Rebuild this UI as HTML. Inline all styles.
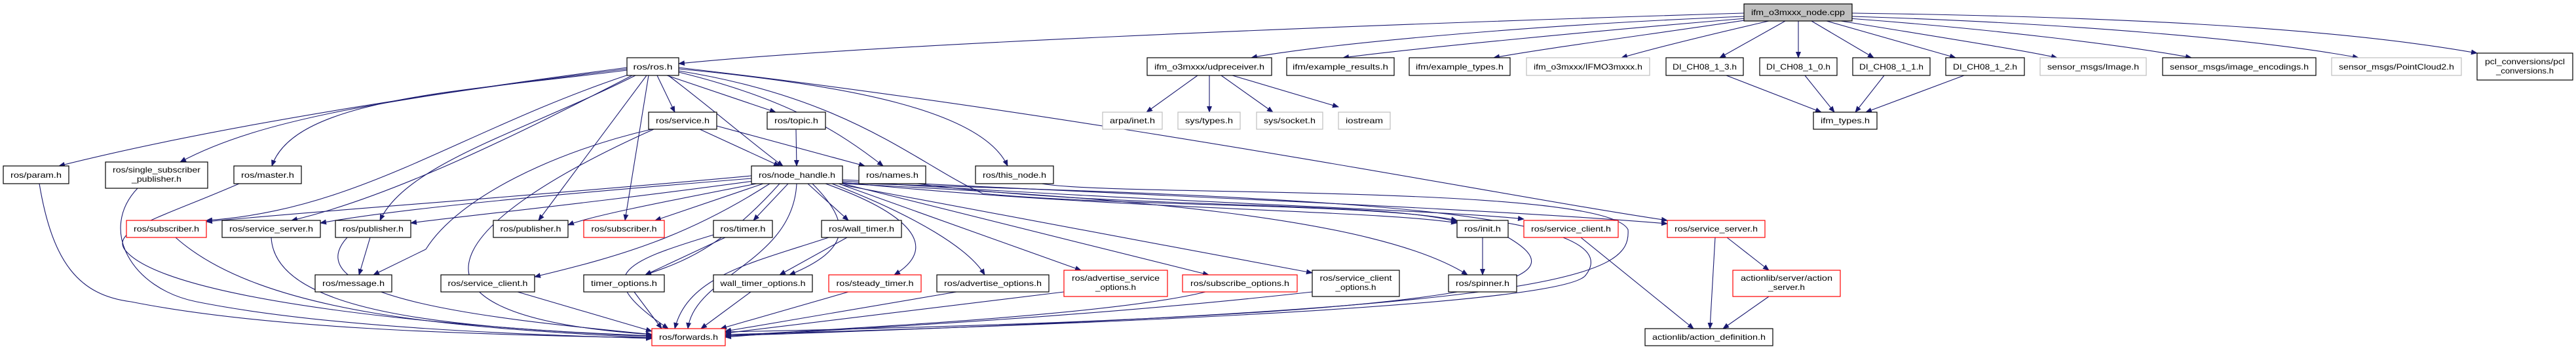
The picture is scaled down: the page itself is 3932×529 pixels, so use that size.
<!DOCTYPE html>
<html><head><meta charset="utf-8"><style>
html,body{margin:0;padding:0;background:#fff;}
svg{display:block;}
text{font-family:"Liberation Sans",sans-serif;font-size:12px;fill:#000;}
.g text{fill:#444;}
</style></head><body>
<svg width="3932" height="529" viewBox="0 0 3932 529" xmlns="http://www.w3.org/2000/svg">
<defs><marker id="a" markerWidth="10" markerHeight="8" refX="9" refY="4" orient="auto" markerUnits="userSpaceOnUse"><polygon points="0,0 10,4 0,8" fill="#191970"/></marker></defs>
<g fill="none" stroke="#191970" stroke-width="1.1" marker-end="url(#a)">
<path d="M2662,20 C2000,40 1300,70 1036,97"/>
<path d="M2662,25 C2300,40 2000,70 1910,88"/>
<path d="M2665,28 C2400,50 2150,75 2050,88"/>
<path d="M2670,30 C2500,55 2350,75 2280,88"/>
<path d="M2700,32 C2600,55 2520,75 2475,88"/>
<path d="M2725,32 L2625,88"/>
<path d="M2745,32 L2745,88"/>
<path d="M2765,32 L2860,88"/>
<path d="M2788,32 L2985,88"/>
<path d="M2810,32 C2950,55 3080,75 3140,88"/>
<path d="M2822,28 C3050,45 3250,70 3345,88"/>
<path d="M2827,25 C3150,35 3450,60 3600,88"/>
<path d="M2827,20 C3200,25 3550,40 3781,81"/>
<path d="M1828,115 L1750,171"/>
<path d="M1846,115 L1846,171"/>
<path d="M1864,115 L1943,171"/>
<path d="M1881,115 L2043,163"/>
<path d="M2635,115 L2780,171"/>
<path d="M2755,115 L2800,171"/>
<path d="M2876,115 L2832,171"/>
<path d="M2998,115 L2848,171"/>
<path d="M957,103 C600,150 300,200 90,253"/>
<path d="M957,105 C600,150 400,180 275,247"/>
<path d="M957,107 C700,140 450,150 415,253"/>
<path d="M962,113 C700,200 550,320 315,336"/>
<path d="M965,115 C800,200 600,300 445,336"/>
<path d="M970,115 C800,200 620,250 580,336"/>
<path d="M987,115 L822,336"/>
<path d="M990,115 L954,336"/>
<path d="M1003,115 L1030,171"/>
<path d="M1018,115 L1184,171"/>
<path d="M1020,115 C1080,160 1150,220 1195,253"/>
<path d="M1036,110 C1200,150 1280,200 1348,253"/>
<path d="M1036,105 C1300,130 1500,170 1538,253"/>
<path d="M1036,108 C1300,150 1400,250 1500,295 C1700,315 2100,310 2224,336"/>
<path d="M1036,103 C1700,180 2300,300 2545,336"/>
<path d="M1068,197 L1190,253"/>
<path d="M1094,192 L1320,253"/>
<path d="M995,197 C850,230 700,300 650,380 L570,419"/>
<path d="M998,197 C700,330 550,480 995,510"/>
<path d="M1215,197 L1216,253"/>
<path d="M1147,268 C800,300 500,320 315,338"/>
<path d="M1147,272 C800,300 600,320 489,340"/>
<path d="M1150,276 C900,310 700,330 627,340"/>
<path d="M1155,280 C1000,310 900,330 867,343"/>
<path d="M1165,280 L1000,336"/>
<path d="M1203,280 L1150,336"/>
<path d="M1233,280 L1295,336"/>
<path d="M1175,280 C1050,360 950,390 816,422"/>
<path d="M1190,280 C1100,380 1040,400 985,419"/>
<path d="M1240,280 C1300,340 1300,380 1205,419"/>
<path d="M1260,280 C1400,330 1430,380 1365,419"/>
<path d="M1270,280 C1400,330 1480,380 1503,419"/>
<path d="M1280,280 L1650,412"/>
<path d="M1286,280 L1845,419"/>
<path d="M1286,282 L2003,416"/>
<path d="M1216,280 C1210,400 1060,420 1050,501"/>
<path d="M1286,278 C1700,320 2100,320 2224,340"/>
<path d="M1286,276 C1800,310 2200,320 2326,334"/>
<path d="M1286,274 C1800,300 2300,320 2545,341"/>
<path d="M1286,280 C1700,300 2100,330 2240,419"/>
<path d="M1590,280 C1700,300 2450,280 2485,350 C2490,420 2400,470 1107,512"/>
<path d="M1400,280 C1700,320 2100,305 2224,338"/>
<path d="M1286,279 C2000,300 2500,320 2420,420 C2380,470 1500,500 1107,510"/>
<path d="M268,362 C400,480 700,500 995,515"/>
<path d="M414,362 C420,480 700,500 995,512"/>
<path d="M530,362 C440,460 800,490 995,510"/>
<path d="M565,362 L548,419"/>
<path d="M1107,362 L985,419"/>
<path d="M1089,358 C950,400 900,420 1020,501"/>
<path d="M1293,362 L1190,419"/>
<path d="M1265,362 C1150,400 1050,420 1030,501"/>
<path d="M790,445 L995,505"/>
<path d="M968,445 L1010,501"/>
<path d="M1146,445 L1070,501"/>
<path d="M1295,445 L1100,501"/>
<path d="M1460,445 L1107,505"/>
<path d="M1624,445 L1107,508"/>
<path d="M1840,445 C1700,480 1300,500 1107,512"/>
<path d="M2003,445 C1600,490 1200,505 1107,514"/>
<path d="M2302,362 C2400,420 2380,480 1107,506"/>
<path d="M60,280 C80,400 120,450 200,460 C400,500 700,510 995,515"/>
<path d="M210,287 C150,350 200,440 300,460 C500,500 800,510 995,516"/>
<path d="M365,280 C250,330 170,350 190,380 C250,460 700,500 995,513"/>
<path d="M2263,362 L2263,419"/>
<path d="M2413,362 L2585,501"/>
<path d="M2618,362 L2610,501"/>
<path d="M2636,362 L2700,412"/>
<path d="M2700,452 L2630,501"/>
</g>
<g stroke-width="1.2" fill="#fff">
<!-- row0 -->
<rect x="2662" y="6" width="165" height="26" fill="#bfbfbf" stroke="#000"/>
<!-- row1 -->
<rect x="957" y="88" width="79" height="27" stroke="#000"/>
<rect x="1751" y="88" width="190" height="27" stroke="#000"/>
<rect x="1964" y="88" width="164" height="27" stroke="#000"/>
<rect x="2151" y="88" width="154" height="27" stroke="#000"/>
<rect x="2330" y="88" width="188" height="27" stroke="#bfbfbf"/>
<rect x="2543" y="88" width="118" height="27" stroke="#000"/>
<rect x="2686" y="88" width="118" height="27" stroke="#000"/>
<rect x="2828" y="88" width="118" height="27" stroke="#000"/>
<rect x="2970" y="88" width="120" height="27" stroke="#000"/>
<rect x="3114" y="88" width="162" height="27" stroke="#bfbfbf"/>
<rect x="3301" y="88" width="234" height="27" stroke="#000"/>
<rect x="3559" y="88" width="198" height="27" stroke="#bfbfbf"/>
<rect x="3781" y="81" width="146" height="41" stroke="#000"/>
<!-- row2 -->
<rect x="990" y="171" width="104" height="26" stroke="#000"/>
<rect x="1171" y="171" width="89" height="26" stroke="#000"/>
<rect x="1683" y="171" width="91" height="26" stroke="#bfbfbf"/>
<rect x="1798" y="171" width="95" height="26" stroke="#bfbfbf"/>
<rect x="1918" y="171" width="101" height="26" stroke="#bfbfbf"/>
<rect x="2043" y="171" width="79" height="26" stroke="#bfbfbf"/>
<rect x="2768" y="171" width="97" height="26" stroke="#000"/>
<!-- row3 -->
<rect x="5" y="253" width="100" height="27" stroke="#000"/>
<rect x="161" y="247" width="156" height="40" stroke="#000"/>
<rect x="357" y="253" width="103" height="27" stroke="#000"/>
<rect x="1147" y="253" width="139" height="27" stroke="#000"/>
<rect x="1311" y="253" width="102" height="27" stroke="#000"/>
<rect x="1489" y="253" width="119" height="27" stroke="#000"/>
<!-- row4 -->
<rect x="193" y="336" width="122" height="26" stroke="#f00"/>
<rect x="339" y="336" width="150" height="26" stroke="#000"/>
<rect x="512" y="336" width="115" height="26" stroke="#000"/>
<rect x="753" y="336" width="114" height="26" stroke="#000"/>
<rect x="891" y="336" width="123" height="26" stroke="#f00"/>
<rect x="1089" y="336" width="90" height="26" stroke="#000"/>
<rect x="1254" y="336" width="122" height="26" stroke="#000"/>
<rect x="2224" y="336" width="78" height="26" stroke="#000"/>
<rect x="2326" y="336" width="144" height="26" stroke="#f00"/>
<rect x="2545" y="336" width="149" height="26" stroke="#f00"/>
<!-- row5 -->
<rect x="481" y="419" width="117" height="26" stroke="#000"/>
<rect x="673" y="419" width="143" height="26" stroke="#000"/>
<rect x="891" y="419" width="123" height="26" stroke="#000"/>
<rect x="1089" y="419" width="151" height="26" stroke="#000"/>
<rect x="1265" y="419" width="141" height="26" stroke="#f00"/>
<rect x="1430" y="419" width="171" height="26" stroke="#000"/>
<rect x="1624" y="412" width="158" height="40" stroke="#f00"/>
<rect x="1805" y="419" width="175" height="26" stroke="#f00"/>
<rect x="2003" y="412" width="133" height="40" stroke="#000"/>
<rect x="2211" y="419" width="104" height="26" stroke="#000"/>
<rect x="2645" y="412" width="164" height="40" stroke="#f00"/>
<!-- row6 -->
<rect x="995" y="501" width="112" height="26" stroke="#f00"/>
<rect x="2511" y="501" width="195" height="26" stroke="#000"/>
</g>
<g text-anchor="middle" lengthAdjust="spacingAndGlyphs">
<text x="2744.5" y="23" textLength="143" lengthAdjust="spacingAndGlyphs">ifm_o3mxxx_node.cpp</text>
<text x="996.5" y="106" textLength="60" lengthAdjust="spacingAndGlyphs">ros/ros.h</text>
<text x="1846" y="106" textLength="168" lengthAdjust="spacingAndGlyphs">ifm_o3mxxx/udpreceiver.h</text>
<text x="2046" y="106" textLength="146" lengthAdjust="spacingAndGlyphs">ifm/example_results.h</text>
<text x="2228" y="106" textLength="134" lengthAdjust="spacingAndGlyphs">ifm/example_types.h</text>
<text x="2424" y="106" textLength="166" lengthAdjust="spacingAndGlyphs" fill="#444">ifm_o3mxxx/IFMO3mxxx.h</text>
<text x="2602" y="106" textLength="98" lengthAdjust="spacingAndGlyphs">DI_CH08_1_3.h</text>
<text x="2745" y="106" textLength="98" lengthAdjust="spacingAndGlyphs">DI_CH08_1_0.h</text>
<text x="2887" y="106" textLength="98" lengthAdjust="spacingAndGlyphs">DI_CH08_1_1.h</text>
<text x="3030" y="106" textLength="98" lengthAdjust="spacingAndGlyphs">DI_CH08_1_2.h</text>
<text x="3195" y="106" textLength="140" lengthAdjust="spacingAndGlyphs" fill="#444">sensor_msgs/Image.h</text>
<text x="3418" y="106" textLength="212" lengthAdjust="spacingAndGlyphs">sensor_msgs/image_encodings.h</text>
<text x="3658" y="106" textLength="176" lengthAdjust="spacingAndGlyphs" fill="#444">sensor_msgs/PointCloud2.h</text>
<text x="3854" y="98" textLength="122" lengthAdjust="spacingAndGlyphs">pcl_conversions/pcl</text>
<text x="3854" y="112" textLength="88" lengthAdjust="spacingAndGlyphs">_conversions.h</text>
<text x="1042" y="188" textLength="82" lengthAdjust="spacingAndGlyphs">ros/service.h</text>
<text x="1215.5" y="188" textLength="67" lengthAdjust="spacingAndGlyphs">ros/topic.h</text>
<text x="1728.5" y="188" textLength="69" lengthAdjust="spacingAndGlyphs" fill="#444">arpa/inet.h</text>
<text x="1845.5" y="188" textLength="73" lengthAdjust="spacingAndGlyphs" fill="#444">sys/types.h</text>
<text x="1968.5" y="188" textLength="79" lengthAdjust="spacingAndGlyphs" fill="#444">sys/socket.h</text>
<text x="2082.5" y="188" textLength="57" lengthAdjust="spacingAndGlyphs" fill="#444">iostream</text>
<text x="2816.5" y="188" textLength="75" lengthAdjust="spacingAndGlyphs">ifm_types.h</text>
<text x="55" y="271" textLength="78" lengthAdjust="spacingAndGlyphs">ros/param.h</text>
<text x="239" y="263" textLength="134" lengthAdjust="spacingAndGlyphs">ros/single_subscriber</text>
<text x="239" y="277" textLength="76" lengthAdjust="spacingAndGlyphs">_publisher.h</text>
<text x="408.5" y="271" textLength="81" lengthAdjust="spacingAndGlyphs">ros/master.h</text>
<text x="1216.5" y="271" textLength="117" lengthAdjust="spacingAndGlyphs">ros/node_handle.h</text>
<text x="1362" y="271" textLength="80" lengthAdjust="spacingAndGlyphs">ros/names.h</text>
<text x="1548.5" y="271" textLength="97" lengthAdjust="spacingAndGlyphs">ros/this_node.h</text>
<text x="254" y="353" textLength="100" lengthAdjust="spacingAndGlyphs">ros/subscriber.h</text>
<text x="414" y="353" textLength="128" lengthAdjust="spacingAndGlyphs">ros/service_server.h</text>
<text x="569.5" y="353" textLength="93" lengthAdjust="spacingAndGlyphs">ros/publisher.h</text>
<text x="810" y="353" textLength="93" lengthAdjust="spacingAndGlyphs">ros/publisher.h</text>
<text x="952.5" y="353" textLength="100" lengthAdjust="spacingAndGlyphs">ros/subscriber.h</text>
<text x="1134" y="353" textLength="69" lengthAdjust="spacingAndGlyphs">ros/timer.h</text>
<text x="1315" y="353" textLength="100" lengthAdjust="spacingAndGlyphs">ros/wall_timer.h</text>
<text x="2263" y="353" textLength="56" lengthAdjust="spacingAndGlyphs">ros/init.h</text>
<text x="2398" y="353" textLength="122" lengthAdjust="spacingAndGlyphs">ros/service_client.h</text>
<text x="2619.5" y="353" textLength="127" lengthAdjust="spacingAndGlyphs">ros/service_server.h</text>
<text x="539.5" y="436" textLength="95" lengthAdjust="spacingAndGlyphs">ros/message.h</text>
<text x="744.5" y="436" textLength="122" lengthAdjust="spacingAndGlyphs">ros/service_client.h</text>
<text x="952.5" y="436" textLength="101" lengthAdjust="spacingAndGlyphs">timer_options.h</text>
<text x="1164.5" y="436" textLength="130" lengthAdjust="spacingAndGlyphs">wall_timer_options.h</text>
<text x="1335.5" y="436" textLength="118" lengthAdjust="spacingAndGlyphs">ros/steady_timer.h</text>
<text x="1515.5" y="436" textLength="149" lengthAdjust="spacingAndGlyphs">ros/advertise_options.h</text>
<text x="1703" y="428" textLength="134" lengthAdjust="spacingAndGlyphs">ros/advertise_service</text>
<text x="1703" y="442" textLength="62" lengthAdjust="spacingAndGlyphs">_options.h</text>
<text x="1892.5" y="436" textLength="151" lengthAdjust="spacingAndGlyphs">ros/subscribe_options.h</text>
<text x="2069.5" y="428" textLength="110" lengthAdjust="spacingAndGlyphs">ros/service_client</text>
<text x="2069.5" y="442" textLength="62" lengthAdjust="spacingAndGlyphs">_options.h</text>
<text x="2263" y="436" textLength="82" lengthAdjust="spacingAndGlyphs">ros/spinner.h</text>
<text x="2727" y="428" textLength="140" lengthAdjust="spacingAndGlyphs">actionlib/server/action</text>
<text x="2727" y="442" textLength="56" lengthAdjust="spacingAndGlyphs">_server.h</text>
<text x="1051" y="518" textLength="90" lengthAdjust="spacingAndGlyphs">ros/forwards.h</text>
<text x="2608.5" y="518" textLength="173" lengthAdjust="spacingAndGlyphs">actionlib/action_definition.h</text>
</g>
</svg>
</body></html>
